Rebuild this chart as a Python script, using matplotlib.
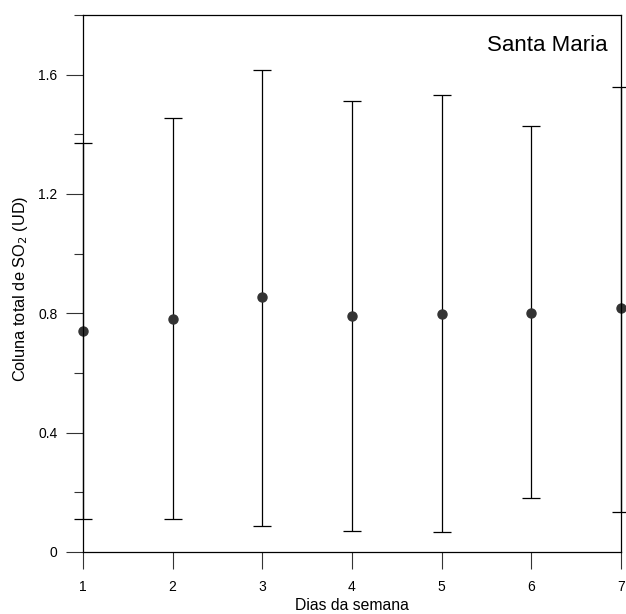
import numpy as np
import matplotlib.pyplot as plt
from matplotlib.ticker import MultipleLocator

plt.rcParams['font.family'] = ['Liberation Sans', 'DejaVu Sans']

dias = [1, 2, 3, 4, 5, 6, 7]
media = [0.741, 0.782, 0.854, 0.792, 0.798, 0.802, 0.818]
topo = [1.372, 1.456, 1.617, 1.513, 1.531, 1.429, 1.557]
base = [0.111, 0.111, 0.088, 0.070, 0.066, 0.181, 0.134]
yticks = [0, 0.4, 0.8, 1.2, 1.6]
ylabels = ['0', '0.4', '0.8', '1.2', '1.6']

media = np.array(media)
err = [media - np.array(base), np.array(topo) - media]

fig = plt.figure(figsize=(6.26, 6.14), dpi=100)
ax = fig.add_axes([0.1326, 0.101, 0.992 - 0.1326, 0.9756 - 0.101])

eb = ax.errorbar(dias, media, yerr=err, fmt='o', color='#333333', ms=6.5,
                 ecolor='black', elinewidth=0.9, capsize=6.8, capthick=0.9)
for art in eb.get_children():
    art.set_clip_on(False)

ax.set_xlim(1, 7)
ax.set_ylim(0, 1.8)
ax.set_xticks(dias)
ax.set_yticks(yticks)
ax.set_yticklabels(ylabels)
ax.yaxis.set_minor_locator(MultipleLocator(0.2))

ax.tick_params(axis='both', which='major', direction='out', length=12.5,
               width=0.8, labelsize=10, pad=6, color='#333333')
ax.tick_params(axis='y', which='minor', direction='out', length=6.5,
               width=0.8, color='#333333')
ax.tick_params(axis='x', pad=8)
for s in ax.spines.values():
    s.set_linewidth(0.9)

ax.set_xlabel('Dias da semana', fontsize=11.3, labelpad=2.5)
ax.set_ylabel('Coluna total de SO$_2$ (UD)', fontsize=11.8)
ax.yaxis.set_label_coords(-0.098, 0.49)
ax.text(0.975, 0.944, 'Santa Maria', transform=ax.transAxes,
        ha='right', va='center', fontsize=16)

fig.savefig('out.png', dpi=100)
